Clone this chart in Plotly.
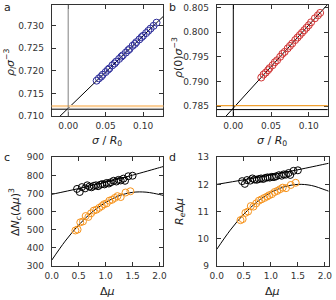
import plotly.graph_objects as go

# ---------------- data ----------------
# panel a
a_x = [0.038, 0.041, 0.044, 0.046, 0.050, 0.053, 0.055, 0.059, 0.062, 0.064, 0.068, 0.071, 0.073, 0.077,
       0.080, 0.082, 0.086, 0.089, 0.091, 0.095, 0.098, 0.100, 0.104, 0.107, 0.110, 0.114, 0.118]
a_y = [0.7178, 0.7183, 0.7187, 0.7191, 0.7197, 0.7202, 0.7205, 0.7212, 0.7216, 0.7220, 0.7226, 0.7231,
       0.7234, 0.7240, 0.7245, 0.7248, 0.7255, 0.7259, 0.7263, 0.7269, 0.7274, 0.7277, 0.7283, 0.7288,
       0.7293, 0.7299, 0.7306]
a_fit_x = [-0.022, 0.127]
a_fit_y = [0.7082, 0.7320]
a_hline_black = 0.7115
a_hline_orange = 0.7122

# panel b
b_x = [0.037, 0.040, 0.043, 0.046, 0.048, 0.052, 0.055, 0.058, 0.062, 0.065, 0.068, 0.072, 0.075,
       0.078, 0.082, 0.085, 0.088, 0.091, 0.094, 0.097, 0.100, 0.103, 0.108, 0.112, 0.115]
b_y = [0.7908, 0.7914, 0.7918, 0.7923, 0.7927, 0.7933, 0.7939, 0.7943, 0.7950, 0.7956, 0.7960, 0.7967,
       0.7972, 0.7977, 0.7984, 0.7989, 0.7994, 0.7999, 0.8004, 0.8009, 0.8014, 0.8020, 0.8028, 0.8034,
       0.8039]
b_fit_x = [-0.022, 0.126]
b_fit_y = [0.7809, 0.8058]
b_hline_black = 0.7843
b_hline_orange = 0.7851

# panel c
c_black_x = [0.47, 0.52, 0.56, 0.62, 0.66, 0.70, 0.74, 0.78, 0.82, 0.86, 0.90, 0.94, 0.98, 1.02,
             1.06, 1.10, 1.15, 1.20, 1.24, 1.28, 1.33, 1.36, 1.42, 1.50]
c_black_y = [725, 708, 735, 728, 745, 738, 734, 742, 745, 740, 748, 752, 750, 758,
             755, 762, 770, 766, 775, 772, 782, 770, 795, 798]
c_orange_x = [0.44, 0.48, 0.53, 0.58, 0.63, 0.68, 0.73, 0.78, 0.83, 0.88, 0.93, 0.97, 1.02, 1.07,
              1.12, 1.17, 1.22, 1.28, 1.37, 1.46]
c_orange_y = [495, 500, 540, 545, 575, 570, 590, 605, 610, 620, 630, 640, 645, 660,
              665, 675, 685, 680, 705, 712]
c_fit_black_x = [0.0, 0.5, 1.0, 1.5, 2.0, 2.07]
c_fit_black_y = [695, 727, 762, 801, 843, 849]
c_fit_orange_x = [0.0, 0.25, 0.5, 0.75, 1.0, 1.25, 1.5, 1.75, 2.0, 2.07]
c_fit_orange_y = [330, 436, 525, 597, 650, 687, 706, 707, 694, 689]

# panel d
d_black_x = c_black_x
d_black_y = [12.12, 12.02, 12.16, 12.14, 12.22, 12.18, 12.17, 12.20, 12.22, 12.20, 12.24, 12.26,
             12.25, 12.28, 12.27, 12.30, 12.34, 12.32, 12.37, 12.36, 12.42, 12.35, 12.50, 12.52]
d_orange_x = c_orange_x
d_orange_y = [10.68, 10.72, 10.95, 11.00, 11.20, 11.18, 11.30, 11.40, 11.45, 11.50, 11.55, 11.60,
              11.64, 11.72, 11.76, 11.82, 11.88, 11.86, 11.98, 12.06]
d_fit_black_x = [0.0, 0.5, 1.0, 1.5, 2.0, 2.07]
d_fit_black_y = [12.0, 12.17, 12.35, 12.54, 12.75, 12.78]
d_fit_orange_x = [0.0, 0.25, 0.5, 0.75, 1.0, 1.25, 1.5, 1.75, 2.0, 2.07]
d_fit_orange_y = [9.6, 10.31, 10.90, 11.36, 11.70, 11.91, 12.00, 11.96, 11.80, 11.75]

# ---------------- styles ----------------
BLUE = "#2d2d9a"
RED = "#d03232"
ORANGE = "#f7941d"
FONT = "DejaVu Sans"
AX = "#333333"
W, H = 336, 300

fig = go.Figure()

def mk(x, y, color, xa, ya):
    fig.add_trace(go.Scatter(x=x, y=y, mode="markers", xaxis=xa, yaxis=ya,
                             marker=dict(symbol="circle-open", size=7, color=color,
                                         line=dict(width=1, color=color)),
                             showlegend=False, hoverinfo="skip"))

def ln(x, y, xa, ya, color="black", width=1):
    fig.add_trace(go.Scatter(x=x, y=y, mode="lines", xaxis=xa, yaxis=ya,
                             line=dict(color=color, width=width, shape="spline"),
                             showlegend=False, hoverinfo="skip"))

# a
ln(a_fit_x, a_fit_y, "x", "y")
mk(a_x, a_y, BLUE, "x", "y")
# b
ln(b_fit_x, b_fit_y, "x2", "y2")
mk(b_x, b_y, RED, "x2", "y2")
# c
ln(c_fit_black_x, c_fit_black_y, "x3", "y3")
ln(c_fit_orange_x, c_fit_orange_y, "x3", "y3")
mk(c_black_x, c_black_y, "black", "x3", "y3")
mk(c_orange_x, c_orange_y, ORANGE, "x3", "y3")
# d
ln(d_fit_black_x, d_fit_black_y, "x4", "y4")
ln(d_fit_orange_x, d_fit_orange_y, "x4", "y4")
mk(d_black_x, d_black_y, "black", "x4", "y4")
mk(d_orange_x, d_orange_y, ORANGE, "x4", "y4")

def px(v):
    return v / W

def py(v):
    return 1 - v / H

common = dict(showgrid=False, zeroline=False, showline=True, linecolor=AX, linewidth=1,
              mirror="ticks", ticks="inside", ticklen=4, tickcolor=AX, tickwidth=1,
              automargin=False, ticklabeloverflow="allow",
              tickfont=dict(family=FONT, size=9, color=AX))

dom_a_x = [px(51.7), px(163.3)]
dom_b_x = [px(216.7), px(327.7)]
dom_top_y = [py(116), py(5)]
dom_bot_y = [py(265.7), py(157.3)]

fig.update_layout(
    width=W, height=H, margin=dict(l=0, r=0, t=0, b=0, pad=0, autoexpand=False),
    paper_bgcolor="white", plot_bgcolor="white", showlegend=False,
    xaxis=dict(domain=dom_a_x, range=[-0.022, 0.127], tickvals=[0, 0.05, 0.10], tickformat=".2f",
               anchor="y", ticklabelstandoff=1, **common),
    yaxis=dict(domain=dom_top_y, range=[0.710, 0.7345], tickvals=[0.710, 0.715, 0.720, 0.725, 0.730],
               tickformat=".3f", anchor="x", ticklabelstandoff=5, **common),
    xaxis2=dict(domain=dom_b_x, range=[-0.022, 0.125], tickvals=[0, 0.05, 0.10], tickformat=".2f",
                anchor="y2", ticklabelstandoff=1, **common),
    yaxis2=dict(domain=dom_top_y, range=[0.783, 0.8055], tickvals=[0.785, 0.790, 0.795, 0.800, 0.805],
                tickformat=".3f", anchor="x2", ticklabelstandoff=5, **common),
    xaxis3=dict(domain=dom_a_x, range=[0, 2.07], tickvals=[0, 0.5, 1.0, 1.5, 2.0], tickformat=".1f",
                anchor="y3", ticklabelstandoff=1, **common),
    yaxis3=dict(domain=dom_bot_y, range=[300, 900], tickvals=[300, 400, 500, 600, 700, 800, 900],
                anchor="x3", ticklabelstandoff=5, **common),
    xaxis4=dict(domain=[px(216.7), px(328.7)], range=[0, 2.07], tickvals=[0, 0.5, 1.0, 1.5, 2.0],
                tickformat=".1f", anchor="y4", ticklabelstandoff=1, **common),
    yaxis4=dict(domain=dom_bot_y, range=[9, 13], tickvals=[9, 10, 11, 12, 13],
                anchor="x4", ticklabelstandoff=5, **common),
)

# reference lines
shapes = [
    dict(type="line", xref="x domain", yref="y", x0=0, x1=1, y0=a_hline_orange, y1=a_hline_orange,
         line=dict(color="#fbcf98", width=2.2)),
    dict(type="line", xref="x domain", yref="y", x0=0, x1=1, y0=a_hline_black, y1=a_hline_black,
         line=dict(color="black", width=1)),
    dict(type="line", xref="x", yref="y domain", x0=0, x1=0, y0=0, y1=1,
         line=dict(color="#808080", width=1)),
    dict(type="line", xref="x2 domain", yref="y2", x0=0, x1=1, y0=b_hline_orange, y1=b_hline_orange,
         line=dict(color="#f0a030", width=1.2)),
    dict(type="line", xref="x2 domain", yref="y2", x0=0, x1=1, y0=b_hline_black, y1=b_hline_black,
         line=dict(color="black", width=1)),
    dict(type="line", xref="x2", yref="y2 domain", x0=0, x1=0, y0=0, y1=1,
         line=dict(color="black", width=1)),
]
fig.update_layout(shapes=shapes)

ann = []

def text(x, y, s, angle=0, size=11):
    ann.append(dict(x=px(x), y=py(y), xref="paper", yref="paper", text=s, showarrow=False,
                    textangle=angle, font=dict(family=FONT, size=size, color="#222222"),
                    xanchor="center", yanchor="middle"))

# panel letters
text(7, 8, "a", size=11)
text(172, 8, "b", size=11)
text(7, 157, "c", size=11)
text(173, 157, "d", size=11)

# axis titles
text(107, 141, "<i>σ</i> / <i>R</i><sub>0</sub>")
text(272, 141, "<i>σ</i> / <i>R</i><sub>0</sub>")
text(107, 291, "Δ<i>μ</i>")
text(272, 291, "Δ<i>μ</i>")
text(10, 62, "<i>ρ</i><sub><i>l</i></sub><i>σ</i><sup>−3</sup>", angle=-90)
text(177, 58, "<i>ρ</i>(0)<i>σ</i><sup>−3</sup>", angle=-90)
text(15, 212, "Δ<i>N</i><sub><i>c</i></sub>(Δ<i>μ</i>)<sup>3</sup>", angle=-90)
text(180, 212, "<i>R</i><sub><i>e</i></sub>Δ<i>μ</i>", angle=-90)

fig.update_layout(annotations=ann)

fig.write_html("out.html",
               config={"displayModeBar": False},
               post_script="document.body.style.margin='0';document.body.style.overflow='hidden';")
